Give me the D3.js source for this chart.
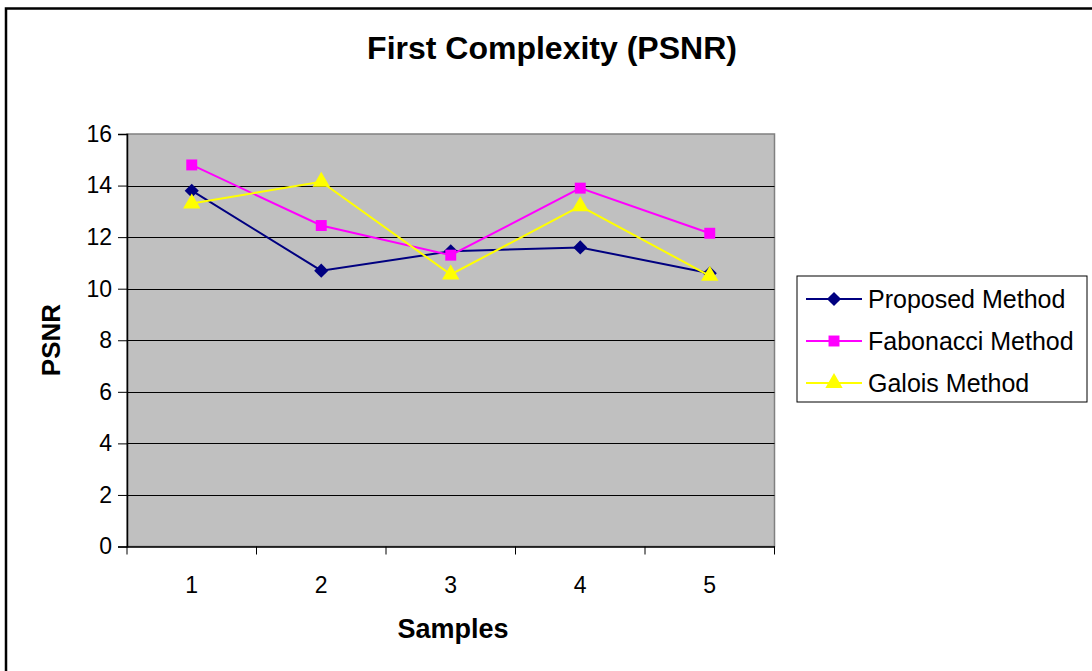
<!DOCTYPE html>
<html>
<head>
<meta charset="utf-8">
<script src="https://cdn.jsdelivr.net/npm/d3@7"></script>
<style>
  html, body { margin: 0; padding: 0; background: #fff; }
  svg { display: block; font-family: Arial, "Liberation Sans", sans-serif; }
</style>
</head>
<body>
<svg id="chart" width="1092" height="671"></svg>
<script>
// PSNR per sample for each method
const samples = ["1", "2", "3", "4", "5"];
const proposed = [13.8, 10.7, 11.45, 11.6, 10.6];
const fabonacci = [14.8, 12.45, 11.3, 13.9, 12.15];
const galois = [13.3, 14.15, 10.55, 13.2, 10.5];
const seriesNames = ["Proposed Method", "Fabonacci Method", "Galois Method"];
const yTicks = [0, 2, 4, 6, 8, 10, 12, 14, 16];

const seriesValues = [proposed, fabonacci, galois];
const colors = ["#000080", "#ff00ff", "#ffff00"];
// diamond = square turned 45 degrees
const shapes = [d3.symbolSquare, d3.symbolSquare, d3.symbolTriangle];
const shapeSizes = [100, 120, 130];
const shapeRotate = [45, 0, 0];

const FONT = "Arial, 'Liberation Sans', sans-serif";
const svg = d3.select("#chart");

// outer chart frame
svg.append("rect")
  .attr("x", 6).attr("y", 8.5)
  .attr("width", 1200).attr("height", 800)
  .attr("fill", "none").attr("stroke", "#000").attr("stroke-width", 2.5);

const plot = { left: 127, right: 774.5, top: 134, bottom: 546.5 };

const x = d3.scaleBand().domain(samples).range([plot.left, plot.right]);
const y = d3.scaleLinear().domain([0, 16]).range([plot.bottom, plot.top]);

// plot area
svg.append("rect")
  .attr("x", plot.left).attr("y", plot.top)
  .attr("width", plot.right - plot.left).attr("height", plot.bottom - plot.top)
  .attr("fill", "#c0c0c0").attr("stroke", "#808080").attr("stroke-width", 1.5);

// horizontal gridlines
svg.append("g")
  .selectAll("line")
  .data(yTicks.filter(t => t > 0 && t < 16))
  .join("line")
  .attr("x1", plot.left).attr("x2", plot.right)
  .attr("y1", d => Math.round(y(d)) + 0.5).attr("y2", d => Math.round(y(d)) + 0.5)
  .attr("stroke", "#000").attr("stroke-width", 1);

// y axis
const yAxis = svg.append("g")
  .attr("transform", `translate(${plot.left},0)`)
  .attr("font-size", 23).attr("font-family", FONT)
  .call(d3.axisLeft(y).tickValues(yTicks).tickSize(9).tickPadding(6).tickFormat(d3.format("d")));
yAxis.attr("font-size", 23).attr("font-family", FONT);
yAxis.select(".domain").attr("stroke", "#000").attr("stroke-width", 1.5);
yAxis.selectAll(".tick line").attr("stroke", "#000");
yAxis.selectAll("text").attr("fill", "#000");

// x axis with ticks at category boundaries
const xAxis = svg.append("g")
  .attr("transform", `translate(0,${plot.bottom})`)
  .call(d3.axisBottom(x).tickSize(0).tickPadding(0));
xAxis.attr("font-size", 23).attr("font-family", FONT);
xAxis.select(".domain").attr("stroke", "#000").attr("stroke-width", 1.5);
xAxis.selectAll("text")
  .attr("fill", "#000").attr("dy", 0).attr("y", 46);
const boundaries = samples.map(s => x(s)).concat([x(samples[samples.length - 1]) + x.bandwidth()]);
xAxis.append("g").selectAll("line")
  .data(boundaries)
  .join("line")
  .attr("x1", d => d).attr("x2", d => d)
  .attr("y1", 0).attr("y2", 8)
  .attr("stroke", "#000").attr("stroke-width", 1);

// series lines and markers
const line = d3.line()
  .x((d, i) => x(samples[i]) + x.bandwidth() / 2)
  .y(d => y(d));

seriesValues.forEach((vals, k) => {
  const g = svg.append("g");
  g.append("path")
    .datum(vals)
    .attr("d", line)
    .attr("fill", "none")
    .attr("stroke", colors[k])
    .attr("stroke-width", 2);
  g.selectAll("path.pt")
    .data(vals)
    .join("path")
    .attr("class", "pt")
    .attr("transform", (d, i) => `translate(${x(samples[i]) + x.bandwidth() / 2},${y(d)}) rotate(${shapeRotate[k]})`)
    .attr("d", d3.symbol().type(shapes[k]).size(shapeSizes[k]))
    .attr("fill", colors[k]);
});

// title and axis titles
svg.append("text")
  .attr("x", 552).attr("y", 59)
  .attr("text-anchor", "middle")
  .attr("font-size", 32).attr("font-weight", "bold")
  .text("First Complexity (PSNR)");

svg.append("text")
  .attr("x", 453).attr("y", 638)
  .attr("text-anchor", "middle")
  .attr("font-size", 27).attr("font-weight", "bold")
  .text("Samples");

svg.append("text")
  .attr("transform", "translate(60,340) rotate(-90)")
  .attr("text-anchor", "middle")
  .attr("font-size", 26).attr("font-weight", "bold")
  .text("PSNR");

// legend
const legend = svg.append("g").attr("transform", "translate(797,276)");
legend.append("rect")
  .attr("width", 290).attr("height", 126)
  .attr("fill", "#fff").attr("stroke", "#000").attr("stroke-width", 1);
const rows = legend.selectAll("g.row")
  .data(seriesNames)
  .join("g")
  .attr("class", "row")
  .attr("transform", (d, i) => `translate(0,${23 + i * 42})`);
rows.append("line")
  .attr("x1", 9).attr("x2", 65).attr("y1", 0).attr("y2", 0)
  .attr("stroke", (d, i) => colors[i]).attr("stroke-width", 2);
rows.append("path")
  .attr("transform", (d, i) => `translate(37,0) rotate(${shapeRotate[i]})`)
  .attr("d", (d, i) => d3.symbol().type(shapes[i]).size(shapeSizes[i])())
  .attr("fill", (d, i) => colors[i]);
rows.append("text")
  .attr("x", 71).attr("y", 9)
  .attr("font-size", 25)
  .text(d => d);
</script>
</body>
</html>
